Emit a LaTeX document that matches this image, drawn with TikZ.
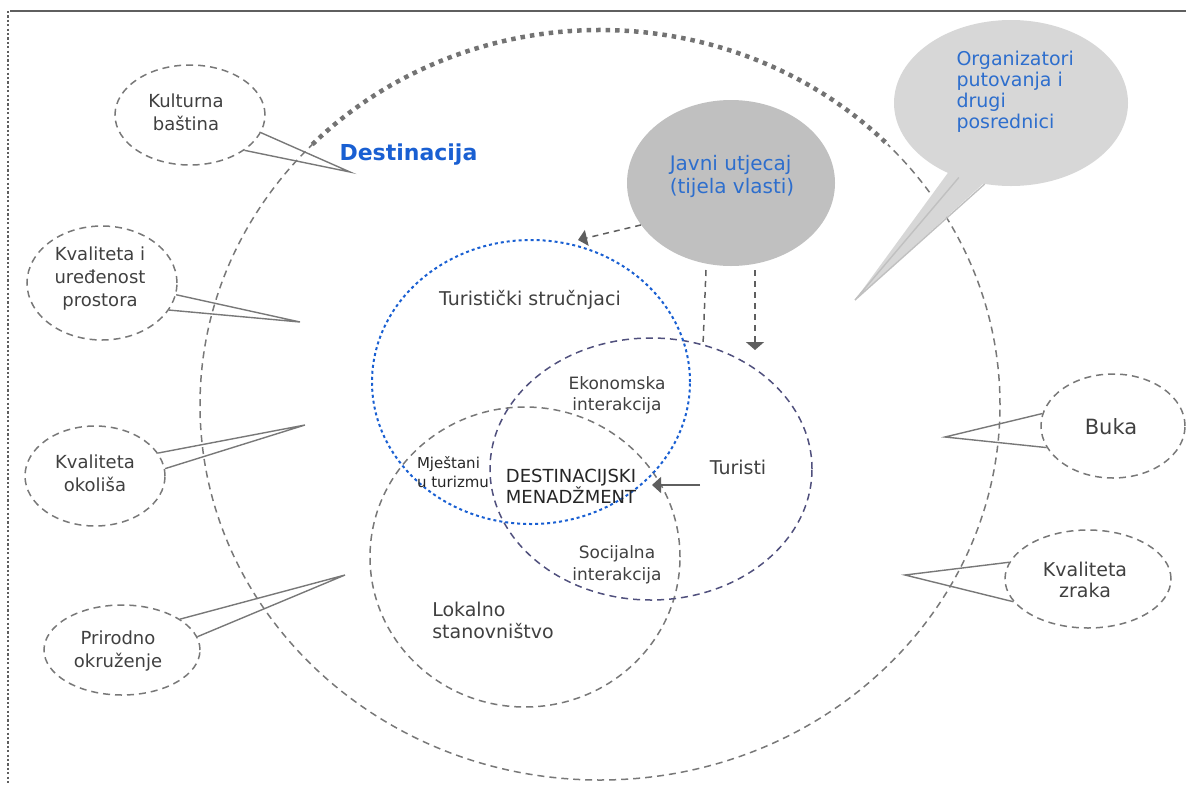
\documentclass[tikz,border=0pt]{standalone}
\usepackage{fontspec}
\setmainfont{DejaVu Sans}
\usetikzlibrary{shapes.geometric,arrows.meta}
\definecolor{dblue}{RGB}{25,95,210}
\definecolor{tblue}{RGB}{45,110,205}
\definecolor{lgray}{RGB}{120,120,120}
\definecolor{dgray}{RGB}{95,95,95}
\definecolor{fgray}{RGB}{192,192,192}
\definecolor{fgray2}{RGB}{215,215,215}
\definecolor{tur}{RGB}{80,80,125}
\begin{document}
\begin{tikzpicture}[x=1pt,y=1pt,yscale=-1,
  callout/.style={ellipse, draw=lgray, dash pattern=on 7pt off 5pt, line width=1.5pt, inner sep=0pt},
  tail/.style={draw=lgray, line width=1.4pt},
  bigell/.style={ellipse, inner sep=0pt, line width=1.5pt, dash pattern=on 7pt off 5pt},
  lbl/.style={align=center, text=black!75, font=\fontsize{18}{23}\selectfont},
  bluelbl/.style={align=left, text=tblue, font=\fontsize{20}{23}\selectfont},
  arr/.style={draw=dgray, line width=1.5pt, dash pattern=on 6pt off 5pt}]
\useasboundingbox (0,0) rectangle (1186,785);
% frame lines
\draw[dgray, line width=1.5pt] (10,11) -- (1186,11);
\draw[dgray, line width=2.2pt, dash pattern=on 2.2pt off 2.2pt] (8,11) -- (8,785);

% big destination ellipse
\node[bigell, draw=lgray, minimum width=800pt, minimum height=750pt] (dest) at (600,405) {};
\draw[draw=white, line width=5pt]
  (600,405) ++(-136:400 and 375) arc[start angle=-136, end angle=-44, x radius=400, y radius=375];
\draw[draw=black!55, line width=4.5pt, dash pattern=on 4.5pt off 5pt]
  (600,405) ++(-136:400 and 375) arc[start angle=-136, end angle=-44, x radius=400, y radius=375];
\node[font=\fontsize{22}{26}\selectfont\bfseries, text=dblue, anchor=west] (destl) at (336,155) {Destinacija};

% inner ellipses
\node[bigell, draw=lgray, minimum width=310pt, minimum height=300pt] (lok) at (525,557) {};
\node[bigell, draw=tur, minimum width=322pt, minimum height=262pt] (tu) at (651,469) {};
\node[ellipse, inner sep=0pt, draw=dblue, line width=2pt, dash pattern=on 3pt off 3pt,
      minimum width=318pt, minimum height=284pt] (ts) at (531,382) {};

% inner texts
\node[lbl, font=\fontsize{19}{23}\selectfont] (tsl) at (530,300) {Turistički stručnjaci};
\node[lbl, font=\fontsize{17}{21}\selectfont] (ek) at (617,395) {Ekonomska\\interakcija};
\node[lbl, align=left, text=black!85, font=\fontsize{15}{19}\selectfont] (mj) at (453,472) {Mještani\\u turizmu};
\node[lbl, text=black!85, font=\fontsize{18}{20}\selectfont] (dm) at (571,486) {DESTINACIJSKI\\MENADŽMENT};
\node[lbl, font=\fontsize{19}{23}\selectfont] (tul) at (738,467) {Turisti};
\node[lbl, font=\fontsize{17}{22}\selectfont] (so) at (617,565) {Socijalna\\interakcija};
\node[lbl, align=left, font=\fontsize{19}{22}\selectfont] (lo) at (493,620) {Lokalno\\stanovništvo};

% public influence and intermediaries
\node[ellipse, fill=fgray, inner sep=0pt, minimum width=208pt, minimum height=166pt] (jv) at (731,183) {};
\node[bluelbl] (jvl) at (732,176) {Javni utjecaj\\(tijela vlasti)};
\coordinate (ortip) at (855,300);
\fill[fgray2] (950,170) -- (ortip) -- (985,182) -- cycle;
\node[ellipse, fill=fgray2, inner sep=0pt, minimum width=234pt, minimum height=166pt] (or) at (1011,103) {};
\node[bluelbl, font=\fontsize{19}{21}\selectfont, anchor=north west] (orl) at (953,48) {Organizatori\\putovanja i\\drugi\\posrednici};
\draw[tail, draw=fgray] (or.235) -- (ortip) -- (or.252);

% arrows
\coordinate (a1) at (578,240);
\draw[arr, -{Triangle[length=9pt,width=16pt]}] (jv.205) -- (a1);
\coordinate (a2s) at (706,270);
\coordinate (a2e) at (703,345);
\draw[arr] (a2s) -- (a2e);
\coordinate (a3s) at (755,270);
\coordinate (a3e) at (755,350);
\draw[arr, -{Triangle[length=8pt,width=18pt]}] (a3s) -- (a3e);
\coordinate (a4s) at (700,485);
\coordinate (a4e) at (652,485);
\draw[arr, solid, -{Triangle[length=9pt,width=16pt]}] (a4s) -- (a4e);

% callouts left
\node[callout, minimum width=150pt, minimum height=100pt] (ku) at (190,115) {};
\coordinate (kut) at (350,172);
\draw[tail] (ku.-14) -- (kut) -- (ku.-33);
\node[lbl] (kul) at (186,112) {Kulturna\\baština};

\node[callout, minimum width=150pt, minimum height=114pt] (kv) at (102,283) {};
\coordinate (kvt) at (300,322);
\draw[tail] (kv.-9) -- (kvt) -- (kv.-22);
\node[lbl] (kvl) at (100,279) {Kvaliteta i\\uređenost\\prostora};

\node[callout, minimum width=140pt, minimum height=100pt] (km) at (95,476) {};
\coordinate (kmt) at (305,425);
\draw[tail] (km.20) -- (kmt) -- (km.6);
\node[lbl] (kml) at (95,473) {Kvaliteta\\okoliša};

\node[callout, minimum width=156pt, minimum height=90pt] (pr) at (122,650) {};
\coordinate (prt) at (345,575);
\draw[tail] (pr.28) -- (prt) -- (pr.10);
\node[lbl] (prl) at (118,651) {Prirodno\\okruženje};

% callouts right
\node[callout, minimum width=144pt, minimum height=104pt] (bu) at (1113,426) {};
\coordinate (but) at (945,437);
\draw[tail] (bu.170) -- (but) -- (bu.198);
\node[lbl, font=\fontsize{21}{24}\selectfont] (bul) at (1111,427) {Buka};

\node[callout, minimum width=166pt, minimum height=98pt] (kz) at (1088,579) {};
\coordinate (kzt) at (905,575);
\draw[tail] (kz.168) -- (kzt) -- (kz.197);
\node[lbl, font=\fontsize{19}{21}\selectfont] (kzl) at (1085,580) {Kvaliteta\\zraka};
\end{tikzpicture}
\end{document}
